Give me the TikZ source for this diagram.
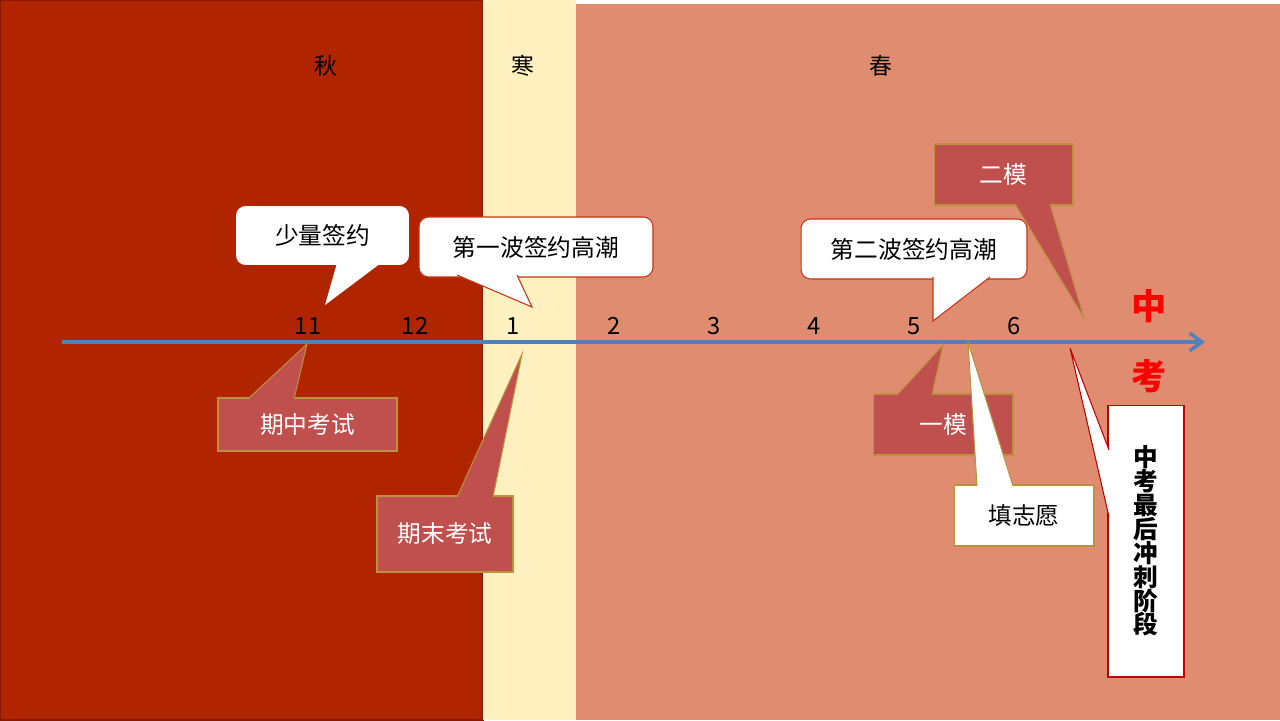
\documentclass[tikz,border=0pt]{standalone}
\usepackage{fontspec}
\setmainfont{Noto Sans CJK SC}
\usetikzlibrary{arrows.meta}
\definecolor{autumn}{RGB}{176,36,0}
\definecolor{winter}{RGB}{255,240,192}
\definecolor{spring}{RGB}{224,140,112}
\definecolor{examred}{RGB}{192,80,77}
\definecolor{gold}{RGB}{186,146,60}
\definecolor{bubbleline}{RGB}{196,52,22}
\definecolor{axisblue}{RGB}{79,129,189}
\definecolor{finalred}{RGB}{192,0,0}
\begin{document}
\begin{tikzpicture}[x=0.02cm, y=-0.02cm, line width=0.6pt,
  season/.style={font=\fontsize{13pt}{15pt}\selectfont, inner sep=1pt},
  month/.style={font=\fontsize{13.5pt}{16pt}\selectfont, inner sep=1pt},
  bubble/.style={fill=white, rounded corners=5.5pt, inner sep=0pt,
    font=\fontsize{13.5pt}{16pt}\selectfont},
  exam/.style={fill=examred, draw=gold, inner sep=0pt, text=white,
    font=\fontsize{13.5pt}{16pt}\selectfont},
  note/.style={fill=white, draw=gold, inner sep=0pt,
    font=\fontsize{13.5pt}{16pt}\selectfont},
  size/.style 2 args={minimum width=#1, minimum height=#2}
]
  \useasboundingbox (0,0) rectangle (1280,720);
  \fill[white] (0,0) rectangle (1280,720);
  % three terms
  \filldraw[fill=autumn, draw=autumn!75!black] (0,0) rectangle (483,720);
  \fill[winter] (483,0) rectangle (576,720);
  \fill[spring] (576,4) rectangle (1280,720);
  \node[season] (qiu) at (326,66) {秋};
  \node[season] (han) at (523,66) {寒};
  \node[season] (chun) at (881,66) {春};

  % time axis
  \coordinate (axL) at (62,342);
  \coordinate (axR) at (1205,342);
  \draw[axisblue, line width=2pt, -{Straight Barb[length=7pt, width=10pt, line width=2pt]}] (axL) -- (axR);
  \node[month] (m11) at (308,326) {11};
  \node[month] (m12) at (415,326) {12};
  \node[month] (m1) at (513,326) {1};
  \node[month] (m2) at (614,326) {2};
  \node[month] (m3) at (714,326) {3};
  \node[month] (m4) at (814,326) {4};
  \node[month] (m5) at (914,326) {5};
  \node[month] (m6) at (1014,326) {6};
  \node[text=red, font=\fontsize{20pt}{40pt}\selectfont\bfseries, align=center, inner sep=0pt] (zk) at (1149,341) {中\\考};

  % tips on the axis
  \coordinate (tA) at (325,305);
  \coordinate (tB) at (532,307);
  \coordinate (tC) at (933,321);
  \coordinate (tD) at (1084,318);
  \coordinate (tE) at (307,344);
  \coordinate (tF) at (522,354);
  \coordinate (tG) at (943,345);
  \coordinate (tH) at (968,342);
  \coordinate (tI) at (1070,348);

  % above the axis
  \node[bubble, size={3.46cm}{1.18cm}] (few) at (322.5,235.5) {少量签约};
  \fill[white] (337,263) -- (tA) -- (381,263);
  \node[bubble, draw=bubbleline, size={4.68cm}{1.2cm}] (wave1) at (536,247) {第一波签约高潮};
  \filldraw[fill=white, draw=bubbleline] (457,275) -- (tB) -- (517,275);
  \node[bubble, draw=bubbleline, size={4.52cm}{1.2cm}] (wave2) at (914,249) {第二波签约高潮};
  \filldraw[fill=white, draw=bubbleline] (933,277) -- (tC) -- (990,277);
  \node[exam, size={2.78cm}{1.22cm}] (mock2) at (1003.5,174.5) {二模};
  \filldraw[fill=examred, draw=gold] (1015,204) -- (tD) -- (1050,204);

  % below the axis
  \node[exam, size={3.58cm}{1.06cm}] (mid) at (307.5,424.5) {期中考试};
  \filldraw[fill=examred, draw=gold] (248,399) -- (tE) -- (294,399);
  \node[exam, size={2.72cm}{1.52cm}] (final) at (445,534) {期末考试};
  \filldraw[fill=examred, draw=gold] (457,497) -- (tF) -- (493,497);
  \node[exam, size={2.8cm}{1.22cm}] (mock1) at (943,424.5) {一模};
  \filldraw[fill=examred, draw=gold] (897,395) -- (tG) -- (932,395);
  \node[note, size={2.8cm}{1.22cm}] (wish) at (1024,515.5) {填志愿};
  \filldraw[fill=white, draw=gold] (977,486) -- (tH) -- (1013,486);
  \node[fill=white, draw=finalred, inner sep=0pt, size={1.52cm}{5.44cm}, align=center,
    font=\fontsize{14pt}{13.6pt}\selectfont\bfseries] (sprint) at (1146,541)
    {中\\考\\最\\后\\冲\\刺\\阶\\段};
  \filldraw[fill=white, draw=finalred] (1109,450) -- (tI) -- (1109,517);
\end{tikzpicture}
\end{document}
